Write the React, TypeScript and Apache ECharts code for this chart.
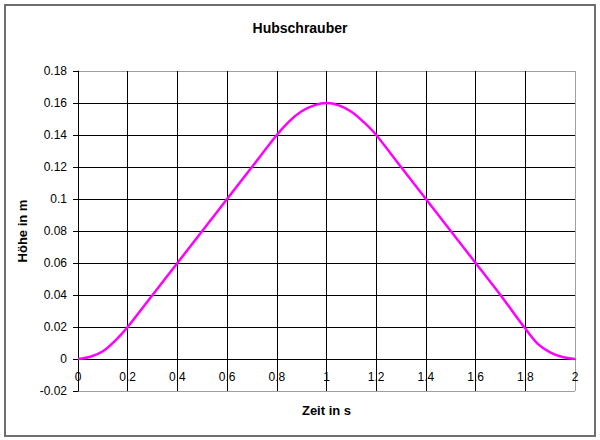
import React, { useEffect, useRef } from "react";
import * as echarts from "echarts";

const TITLE = "Hubschrauber";
const X_NAME = "Zeit in s";
const Y_NAME = "Höhe in m";

const times = [0, 0.05, 0.1, 0.15, 0.2, 0.3, 0.4, 0.5, 0.6, 0.7, 0.8, 0.85, 0.9, 0.95, 1.0, 1.05, 1.1, 1.15, 1.2, 1.3, 1.4, 1.5, 1.6, 1.7, 1.8, 1.85, 1.9, 1.95, 2.0];
const heights = [0, 0.0014, 0.0048, 0.0115, 0.02, 0.04, 0.06, 0.08, 0.1, 0.12, 0.14, 0.1485, 0.1548, 0.1585, 0.16, 0.1585, 0.1545, 0.148, 0.14, 0.12, 0.1, 0.08, 0.06, 0.04, 0.019, 0.0095, 0.0042, 0.0012, 0];

const FONT = "'Liberation Sans', Arial, sans-serif";

export default function App() {
  const ref = useRef<HTMLDivElement>(null);
  useEffect(() => {
    if (!ref.current) return;
    const chart = echarts.init(ref.current, undefined, { renderer: "svg" });
    const yColors = ["#a0a0a0", "#000", "#000", "#000", "#000", "#000", "#000", "#000", "#000", "#000", "#a0a0a0"];
    const xColors = ["#000", "#000", "#000", "#000", "#000", "#000", "#000", "#000", "#000", "#000", "#a0a0a0"];
    const fmt = (v: number) => String(Math.round(v * 1000) / 1000);
    chart.setOption({
      animation: false,
      backgroundColor: "#fff",
      textStyle: { fontFamily: FONT },
      title: {
        text: TITLE,
        left: "center",
        top: 21,
        padding: 0,
        textStyle: { fontFamily: FONT, fontSize: 14, fontWeight: "bold", color: "#000" },
      },
      graphic: [
        {
          type: "rect",
          shape: { x: 5, y: 5, width: 590, height: 431 },
          style: { fill: "none", stroke: "#6e6e6e", lineWidth: 2 },
          silent: true,
        },
      ],
      grid: { left: 78, top: 71, width: 497, height: 320, containLabel: false, outerBoundsMode: "none" },
      xAxis: {
        type: "value",
        min: 0,
        max: 2,
        interval: 0.2,
        position: "bottom",
        offset: -32,
        name: X_NAME,
        nameLocation: "middle",
        nameGap: 45,
        nameTextStyle: { fontFamily: FONT, fontSize: 13, fontWeight: "bold", color: "#000" },
        axisLine: { show: true, onZero: false, lineStyle: { color: "#000", width: 1 } },
        axisTick: { show: false },
        axisLabel: { color: "#000", fontSize: 12, fontFamily: FONT, margin: 12, formatter: fmt },
        splitLine: { show: true, showMinLine: true, showMaxLine: true, lineStyle: { color: xColors, width: 1 } },
      },
      yAxis: {
        type: "value",
        min: -0.02,
        max: 0.18,
        interval: 0.02,
        name: Y_NAME,
        nameLocation: "middle",
        nameRotate: 90,
        nameGap: 42,
        nameTextStyle: { fontFamily: FONT, fontSize: 13, fontWeight: "bold", color: "#000" },
        axisLine: { show: true, onZero: false, lineStyle: { color: "#000", width: 1 } },
        axisTick: { show: true, inside: false, length: 5, lineStyle: { color: "#000" } },
        axisLabel: { color: "#000", fontSize: 12, fontFamily: FONT, margin: 11, formatter: fmt },
        splitLine: { show: true, showMinLine: true, showMaxLine: true, lineStyle: { color: yColors, width: 1 } },
      },
      series: [
        {
          type: "line",
          data: times.map((t, i) => [t, heights[i]]),
          showSymbol: false,
          smooth: 0.3,
          lineStyle: { color: "#ff00ff", width: 2.5 },
          itemStyle: { color: "#ff00ff" },
          z: 5,
        },
      ],
    });
    return () => chart.dispose();
  }, []);
  return <div ref={ref} style={{ position: "absolute", left: 0, top: 0, width: 600, height: 440 }} />;
}
